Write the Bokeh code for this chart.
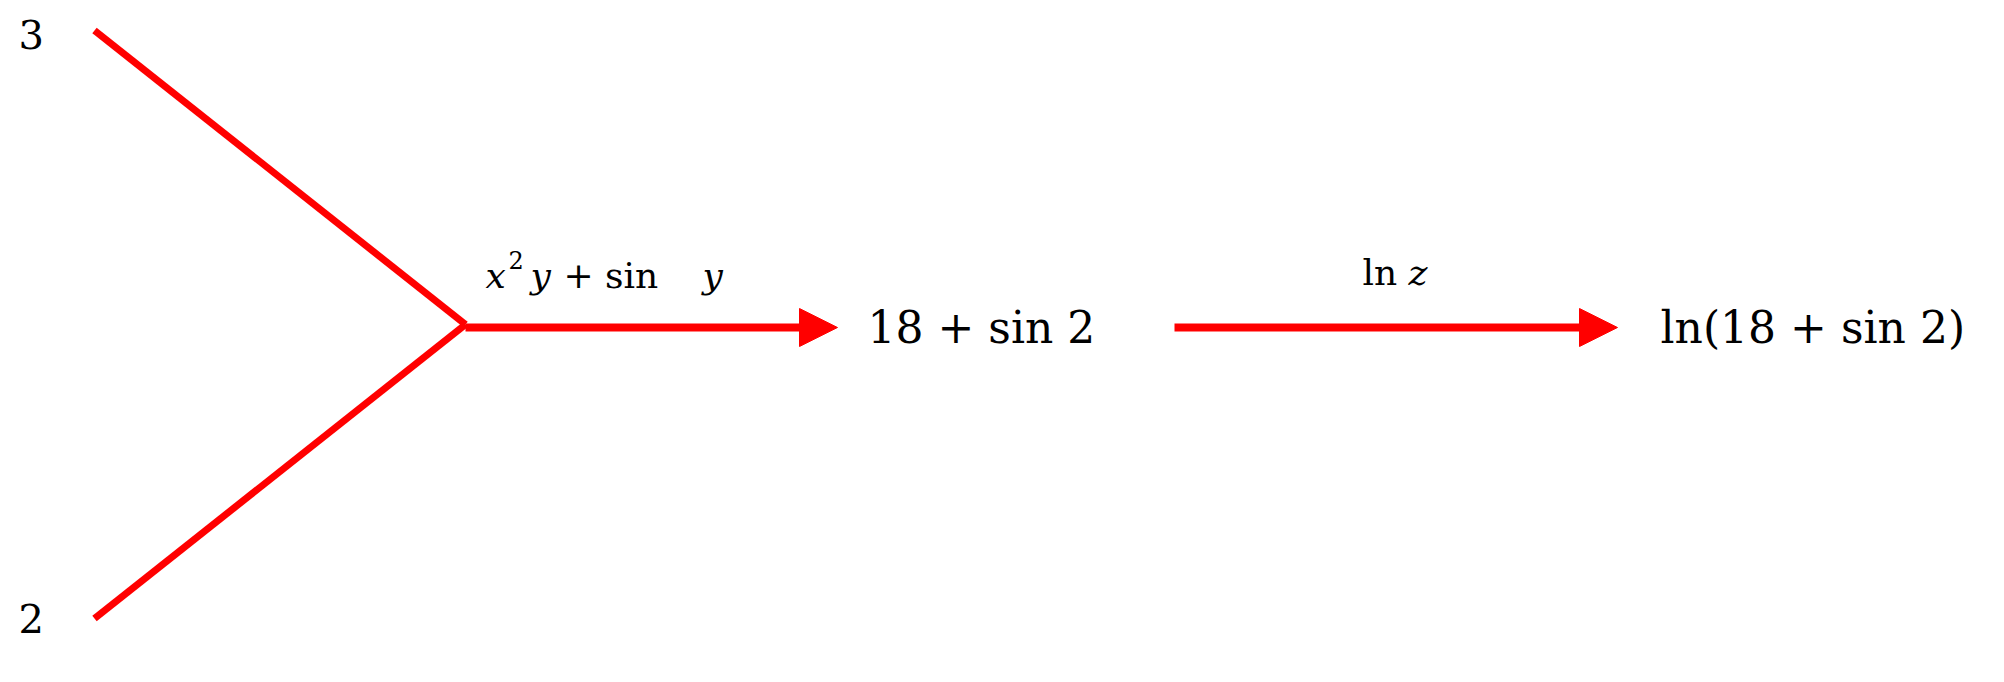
from bokeh.plotting import figure
from bokeh.models import Range1d, Arrow, NormalHead
from bokeh.core.properties import value
from bokeh.embed import file_html
from bokeh.resources import INLINE

W, H = 1988, 666
RED = "#ff0000"
FONT = value("DejaVu Serif")

# input leaves and the operations graph (page pixel coordinates)
leaf_labels = ["3", "2"]
leaf_x = [18, 18]
leaf_y = [34, 618]
join_x, join_y = 465, 324
line_x0 = [94, 94]
line_y0 = [30, 618]

node_labels = ["18 + sin 2", "ln(18 + sin 2)"]
node_x = [867, 1660]
node_y = [327, 327]
arrow_x0 = [465, 1174]
arrow_x1 = [837, 1617]

p = figure(width=W, height=H, output_backend="svg", toolbar_location=None,
           x_range=Range1d(0, W), y_range=Range1d(H, 0), min_border=0)
p.axis.visible = False
p.grid.visible = False
p.outline_line_color = None

for x0, y0 in zip(line_x0, line_y0):
    p.line([x0, join_x], [y0, join_y], line_color=RED, line_width=7)

for x0, x1, y in zip(arrow_x0, arrow_x1, node_y):
    p.add_layout(Arrow(x_start=x0, y_start=y, x_end=x1, y_end=y, line_color=RED, line_width=8,
                       end=NormalHead(size=38, fill_color=RED, line_color=RED)))

p.text(leaf_x, leaf_y, text=leaf_labels, text_font=FONT, text_font_size="40px",
       text_baseline="middle", text_color="black")
p.text(node_x, node_y, text=node_labels, text_font=FONT, text_font_size="44px",
       text_baseline="middle", text_color="black")

# edge label x^2 y + sin y
p.text([485], [295], text=["x"], text_font=FONT, text_font_size="36px", text_font_style="italic")
p.text([508], [268], text=["2"], text_font=FONT, text_font_size="24px")
p.text([530], [295], text=["y"], text_font=FONT, text_font_size="36px", text_font_style="italic")
p.text([563], [295], text=["+ sin"], text_font=FONT, text_font_size="36px")
p.text([702], [295], text=["y"], text_font=FONT, text_font_size="36px", text_font_style="italic")
# edge label ln z
p.text([1362], [292], text=["ln"], text_font=FONT, text_font_size="36px")
p.text([1408], [292], text=["z"], text_font=FONT, text_font_size="36px", text_font_style="italic")

open("out.html", "w").write(file_html(p, INLINE))
